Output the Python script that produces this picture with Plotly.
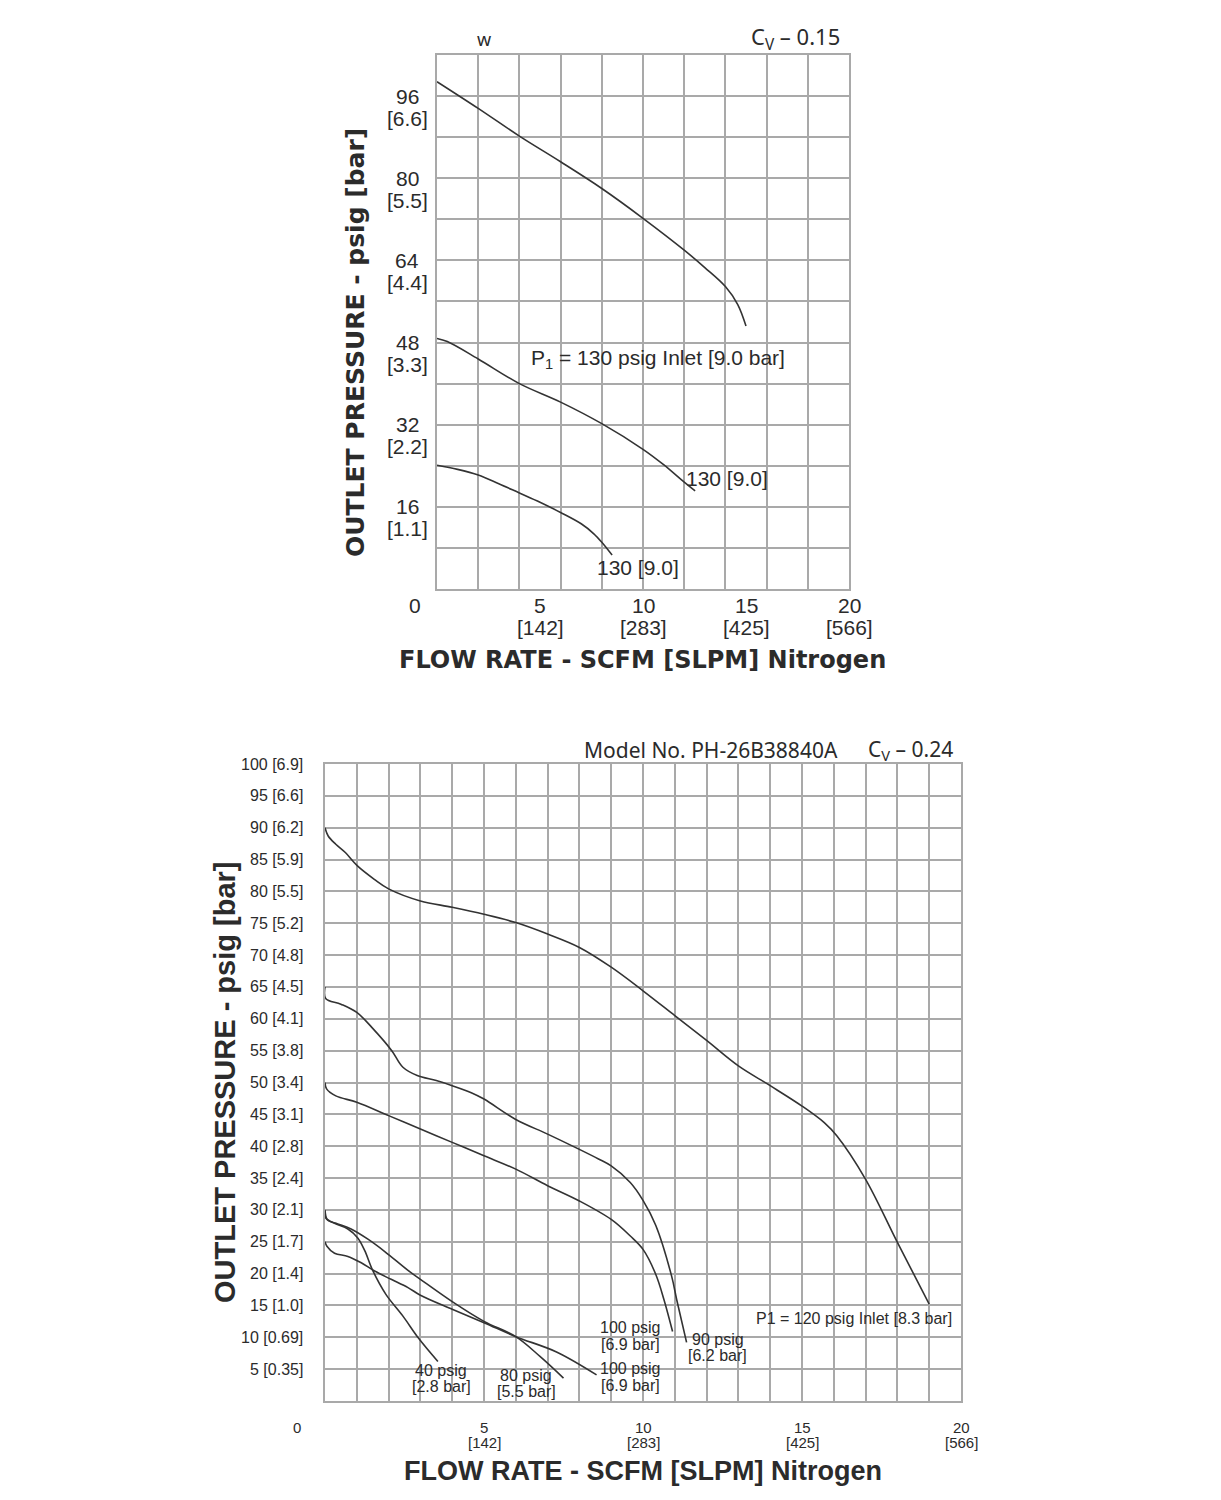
import plotly.graph_objects as go

# ---------------- DATA ----------------
# Top chart (Cv 0.15, P1 = 130 psig inlet) : flow SCFM -> outlet psig
top_flow_1 = [0, 2, 4, 6, 8, 10, 12, 13, 14, 14.6, 15.0]
top_out_1 = [98.8, 93.6, 88.2, 83.2, 78.0, 72.2, 66.0, 62.6, 58.9, 55.4, 51.2]
top_flow_2 = [0, 0.5, 2, 4, 6, 8, 10, 11, 12, 12.53]
top_out_2 = [48.8, 48.2, 44.8, 40.0, 36.4, 32.2, 27.2, 24.2, 20.8, 19.1]
top_flow_3 = [0, 1, 2, 3, 4, 5, 6, 7, 7.6, 8.0, 8.5]
top_out_3 = [24.1, 23.3, 22.2, 20.5, 18.7, 16.9, 14.9, 12.7, 10.8, 9.1, 6.6]

top_x_tick_vals = [5, 10, 15, 20]
top_x_tick_slpm = ["[142]", "[283]", "[425]", "[566]"]
top_y_tick_vals = [16, 32, 48, 64, 80, 96]
top_y_tick_bar = ["[1.1]", "[2.2]", "[3.3]", "[4.4]", "[5.5]", "[6.6]"]

# Bottom chart (Model PH-26B38840A, Cv 0.24)
bot_flow_120 = [0, 0.1, 0.34, 0.64, 1.02, 1.55, 2, 3, 4, 5, 6, 7, 8, 9, 10, 11, 12, 13, 14, 15, 15.7, 16.1, 17, 18, 19.0]
bot_out_120 = [90, 88.7, 87.4, 86.1, 84.0, 81.9, 80.4, 78.5, 77.5, 76.4, 75.1, 73.3, 71.2, 68.1, 64.4, 60.5, 56.6, 52.6, 49.5, 46.3, 43.7, 41.6, 34.8, 24.9, 15.2]
bot_flow_90 = [0, 0.02, 0.5, 1.0, 1.5, 2.1, 2.45, 2.9, 3.5, 4, 4.6, 5, 6, 7, 8, 8.6, 9, 9.6, 10, 10.4, 10.9, 11.06, 11.37]
bot_out_90 = [65, 63.2, 62.3, 61.0, 58.5, 55.0, 52.4, 51.1, 50.3, 49.5, 48.4, 47.4, 44.2, 41.9, 39.5, 38.0, 36.9, 34.3, 31.5, 27.6, 19.6, 15.9, 9.2]
bot_flow_100a = [0, 0.05, 0.34, 1.0, 2, 3, 4, 5, 6, 7, 8, 9, 9.6, 10, 10.4, 10.66, 10.93]
bot_out_100a = [50, 49.0, 47.9, 46.9, 44.8, 42.7, 40.6, 38.5, 36.4, 33.8, 31.4, 28.5, 25.9, 23.8, 19.9, 15.9, 10.9]
bot_flow_80 = [0, 0.08, 0.4, 0.82, 1.35, 1.87, 2.61, 3, 4, 5, 6, 6.76, 7.5]
bot_out_80 = [30, 28.4, 27.8, 27.0, 25.4, 23.5, 20.5, 19.1, 15.6, 12.5, 10.1, 7.0, 3.6]
bot_flow_100b = [0, 0.06, 0.3, 0.72, 1.14, 1.56, 2.08, 2.61, 3, 4, 5, 6, 7.28, 8.54]
bot_out_100b = [25, 24.3, 23.2, 22.7, 21.7, 20.4, 19.1, 17.8, 16.6, 14.4, 12.3, 10.1, 7.7, 4.1]
bot_flow_40 = [0, 0.03, 0.3, 0.72, 1.03, 1.25, 1.5, 1.92, 2.44, 2.95, 3.55]
bot_out_40 = [29.3, 28.7, 27.9, 27.0, 25.6, 23.6, 20.5, 16.7, 13.4, 9.8, 6.2]

bot_x_tick_vals = [5, 10, 15, 20]
bot_x_tick_slpm = ["[142]", "[283]", "[425]", "[566]"]
bot_y_tick_vals = [5, 10, 15, 20, 25, 30, 35, 40, 45, 50, 55, 60, 65, 70, 75, 80, 85, 90, 95, 100]
bot_y_tick_bar = ["[0.35]", "[0.69]", "[1.0]", "[1.4]", "[1.7]", "[2.1]", "[2.4]", "[2.8]", "[3.1]", "[3.4]",
                  "[3.8]", "[4.1]", "[4.5]", "[4.8]", "[5.2]", "[5.5]", "[5.9]", "[6.2]", "[6.6]", "[6.9]"]

# ---------------- STYLE ----------------
OFF = 8  # default page body margin
W, H = 1221 - OFF, 1500 - OFF
def px(X):
    return (X - OFF) / W
def py(Y):
    return 1 - (Y - OFF) / H

SANS = "Liberation Sans, Arial, sans-serif"
WIDE_BOLD = "DejaVu Sans, Verdana, sans-serif"
HUMAN = "Noto Sans, Open Sans, sans-serif"
TXT = "#2b2b2b"
GRID = "#a9a9a9"
LINE = "#333333"

fig = go.Figure()

def curve(x, y, xa, ya):
    fig.add_trace(go.Scatter(x=x, y=y, mode="lines", xaxis=xa, yaxis=ya,
                             line=dict(color=LINE, width=1.6, shape="spline", smoothing=1.0),
                             showlegend=False, hoverinfo="skip"))

curve(top_flow_1, top_out_1, "x", "y")
curve(top_flow_2, top_out_2, "x", "y")
curve(top_flow_3, top_out_3, "x", "y")
for fx, fy in [(bot_flow_120, bot_out_120), (bot_flow_90, bot_out_90), (bot_flow_100a, bot_out_100a),
               (bot_flow_80, bot_out_80), (bot_flow_100b, bot_out_100b), (bot_flow_40, bot_out_40)]:
    curve(fx, fy, "x2", "y2")

axis_common = dict(showgrid=True, gridcolor=GRID, gridwidth=1.6, zeroline=False,
                   showline=True, mirror=True, linecolor=GRID, linewidth=1.6,
                   showticklabels=False, ticks="", fixedrange=True)

fig.update_layout(
    width=W, height=H, autosize=False,
    margin=dict(l=0, r=0, t=0, b=0),
    paper_bgcolor="white", plot_bgcolor="white",
    xaxis=dict(domain=[px(437), px(849)], range=[0, 20], dtick=2, anchor="y", **axis_common),
    yaxis=dict(domain=[py(589), py(55)], range=[0, 104], dtick=8, anchor="x", **axis_common),
    xaxis2=dict(domain=[px(325), px(961)], range=[0, 20], dtick=1, anchor="y2", **axis_common),
    yaxis2=dict(domain=[py(1401), py(764)], range=[0, 100], dtick=5, anchor="x2", **axis_common),
)

ann = []
def text(x, y, s, size, family=SANS, xref="paper", yref="paper", xanchor="center", yanchor="middle",
         yshift=0, angle=0, bold=False):
    if bold:
        s = "<b>" + s + "</b>"
    ann.append(dict(x=x, y=y, xref=xref, yref=yref, text=s, showarrow=False,
                    xanchor=xanchor, yanchor=yanchor, yshift=yshift, textangle=angle,
                    font=dict(family=family, size=size, color=TXT)))

# --- top chart text ---
for v, b in zip(top_y_tick_vals, top_y_tick_bar):
    text(px(407), v, str(v), 21, yref="y")
    text(px(407), v, b, 21, yref="y", yshift=-22)
for v, b in zip(top_x_tick_vals, top_x_tick_slpm):
    text(v, py(606), str(v), 21, xref="x")
    text(v, py(627), b, 21, xref="x")
text(px(415), py(606), "0", 21)
text(px(355), py(342), "OUTLET PRESSURE - psig [bar]", 25, family=WIDE_BOLD, angle=-90, bold=True)
text(px(642), py(660), "FLOW RATE - SCFM [SLPM] Nitrogen", 24, family=WIDE_BOLD, bold=True)
text(px(484), py(39), "w", 18, family=HUMAN)
text(px(842), py(38), "C<sub>V</sub> – 0.15", 22, family=HUMAN, xanchor="right")
text(px(658), py(359), "P<sub>1</sub> = 130 psig Inlet [9.0 bar]", 21)
text(px(727), py(478), "130 [9.0]", 21)
text(px(638), py(567), "130 [9.0]", 21)

# --- bottom chart text ---
for v, b in zip(bot_y_tick_vals, bot_y_tick_bar):
    text(px(305), v, f"{v} {b}", 16, yref="y2", xanchor="right")
for v, b in zip(bot_x_tick_vals, bot_x_tick_slpm):
    text(v, py(1427), str(v), 15, xref="x2")
    text(v, py(1442), b, 15, xref="x2")
text(px(297), py(1427), "0", 15)
text(px(225), py(1083), "OUTLET PRESSURE - psig [bar]", 29, angle=-90, bold=True)
text(px(643), py(1471), "FLOW RATE - SCFM [SLPM] Nitrogen", 27, bold=True)
text(px(840), py(750), "Model No. PH-26B38840A", 21, family=HUMAN, xanchor="right")
text(px(955), py(750), "C<sub>V</sub> – 0.24", 21, family=HUMAN, xanchor="right")
text(px(854), py(1318), "P1 = 120 psig Inlet [8.3 bar]", 16)
for (X, Y1, Y2, l1, l2) in [(441, 1370, 1386, "40 psig", "[2.8 bar]"),
                            (526, 1375, 1391, "80 psig", "[5.5 bar]"),
                            (630, 1368, 1385, "100 psig", "[6.9 bar]"),
                            (630, 1327, 1344, "100 psig", "[6.9 bar]"),
                            (718, 1339, 1355, "90 psig", "[6.2 bar]")]:
    text(px(X), py(Y1), l1, 16)
    text(px(X), py(Y2), l2, 16)

fig.update_layout(annotations=ann)
fig.write_html("out.html")
